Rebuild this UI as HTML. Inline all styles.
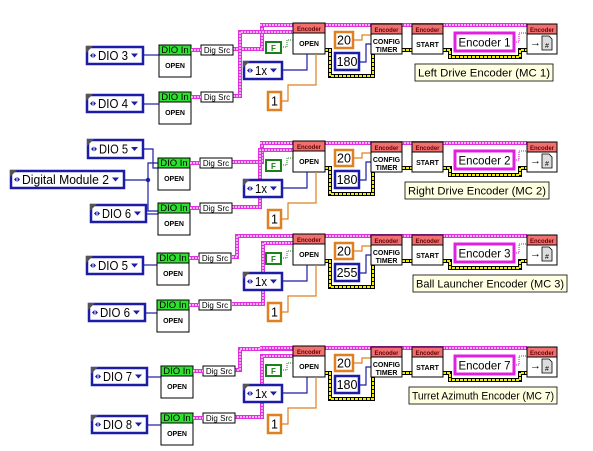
<!DOCTYPE html>
<html><head><meta charset="utf-8"><style>
html,body{margin:0;padding:0;background:#fff;width:593px;height:451px;overflow:hidden}
svg text{font-family:"Liberation Sans",sans-serif}
</style></head><body>
<svg id="s" xmlns="http://www.w3.org/2000/svg" width="593" height="451" viewBox="0 0 593 451"></svg>
<script>
var S=document.getElementById('s'),h='';
function ln(d,c,w,extra){h+='<path d="'+d+'" fill="none" stroke="'+c+'" stroke-width="'+w+'" '+(extra||'')+'/>';}
function pink(d){ln(d,'#e030e0',4);ln(d,'#fff',1.2,'stroke-dasharray="2 1"');}
function yel(d){ln(d,'#000',4);ln(d,'#f0f000',2,'stroke-dasharray="3 1"');}
function enumc(x,y,w,t,hh){hh=hh||17;
 h+='<rect x="'+x+'" y="'+y+'" width="'+w+'" height="'+hh+'" fill="#fff" stroke="#1c1ca8" stroke-width="2.5"/>';
 h+='<polygon points="'+(x-1)+','+(y-1)+' '+(x+6)+','+(y-1)+' '+(x-1)+','+(y+6)+'" fill="#555"/>';
 h+='<polygon points="'+(x+3)+','+(y+hh/2)+' '+(x+5.5)+','+(y+hh/2-2.5)+' '+(x+5.5)+','+(y+hh/2+2.5)+'" fill="#1c1ca8"/>';
 h+='<polygon points="'+(x+9)+','+(y+hh/2)+' '+(x+6.5)+','+(y+hh/2-2.5)+' '+(x+6.5)+','+(y+hh/2+2.5)+'" fill="#1c1ca8"/>';
 var tl=w-26;
 h+='<text x="'+(x+11)+'" y="'+(y+hh/2+4.5)+'" font-size="12.5" fill="#000" textLength="'+tl+'" lengthAdjust="spacingAndGlyphs">'+t+'</text>';
 h+='<polygon points="'+(x+w-12)+','+(y+hh/2-2)+' '+(x+w-5)+','+(y+hh/2-2)+' '+(x+w-8.5)+','+(y+hh/2+2)+'" fill="#1c1ca8"/>';}
function vi(x,y,w,hh,hd,hc,body,tc){
 h+='<rect x="'+x+'" y="'+y+'" width="'+w+'" height="'+hh+'" fill="#fff" stroke="#000" stroke-width="1"/>';
 h+='<rect x="'+x+'" y="'+y+'" width="'+w+'" height="10" fill="'+hc+'" stroke="#000" stroke-width="1"/>';
 h+='<text x="'+(x+w/2)+'" y="'+(y+8)+'" font-size="'+(hd=='DIO In'?9.5:6)+'" text-anchor="middle" fill="'+tc+'" font-weight="'+(hd=='DIO In'?'normal':'bold')+'">'+hd+'</text>';
 var b=body.split('|');
 for(var i=0;i<b.length;i++)h+='<text x="'+(x+w/2)+'" y="'+(y+(b.length>1?20+i*8:23))+'" font-size="7" font-weight="bold" text-anchor="middle">'+b[i]+'</text>';}
function dioin(x,y){vi(x,y,32,32,'DIO In','#30e030','OPEN','#000');
 h+='<rect x="'+(x+42)+'" y="'+y+'" width="32" height="10" fill="#fff" stroke="#000"/><text x="'+(x+58)+'" y="'+(y+8)+'" font-size="8" text-anchor="middle">Dig Src</text>';
 pink('M'+(x+32)+','+(y+5)+' H'+(x+42));}
function cst(x,y,w,hh,c,t){h+='<rect x="'+x+'" y="'+y+'" width="'+w+'" height="'+hh+'" fill="#fff" stroke="'+c+'" stroke-width="2.5"/><text x="'+(x+w/2)+'" y="'+(y+hh/2+4.5)+'" font-size="12.5" text-anchor="middle">'+t+'</text>';}
function right(d,n,lab,lx,lw){
 var Y=function(v){return v+d};
 pink('M'+(260)+','+Y(25)+' H527');
 yel('M325,'+Y(50)+' H330 V'+Y(76)+' H373 V'+Y(50));
 yel('M402,'+Y(50)+' H412');
 yel('M443,'+Y(50)+' H450 V'+Y(57)+' H520 V'+Y(50)+' H527');
 vi(293,Y(23),32,31,'Encoder','#f07070','OPEN','#600');
 h+='<rect x="266" y="'+Y(42)+'" width="15" height="11" fill="#fff" stroke="#1a801a" stroke-width="2"/><text x="273.5" y="'+Y(51)+'" font-size="8" font-weight="bold" fill="#1a801a" text-anchor="middle">F</text>';
 ln('M281,'+Y(47)+' H287 V'+Y(40)+' H293','#1a801a',1,'stroke-dasharray="1 1"');
 ln('M282,'+Y(70)+' H307 V'+Y(54),'#1c1ca8',1.2);
 ln('M281,'+Y(101)+' H288 V'+Y(85)+' H316 V'+Y(54),'#e08020',1.2);
 enumc(244,Y(62),38,'1x');
 cst(268,Y(92),13,18,'#e08020','1');
 ln('M353,'+Y(40)+' H362 V'+Y(35)+' H371','#e08020',1.2);
 ln('M359,'+Y(62)+' H366 V'+Y(44)+' H371','#1c1ca8',1.2);
 cst(335,Y(32),18,16,'#e08020','20');
 cst(335,Y(53),24,17,'#1c1ca8',n==3?'255':'180');
 vi(371,Y(24),31,30,'Encoder','#f07070','CONFIG|TIMER','#600');
 vi(412,Y(24),31,30,'Encoder','#f07070','START','#600');
 ln('M514,'+Y(42)+' H519 V'+Y(33)+' H527','#e030e0',1.2,'stroke-dasharray="1 1"');
 h+='<rect x="455" y="'+Y(33)+'" width="59" height="18" fill="#fff" stroke="#e020e0" stroke-width="3"/><text x="484.5" y="'+Y(46.5)+'" font-size="12" text-anchor="middle" textLength="52" lengthAdjust="spacingAndGlyphs">Encoder '+n+'</text>';
 vi(527,Y(24),30,30,'Encoder','#f07070','','#600');
 h+='<text x="530" y="'+Y(46)+'" font-size="11">→</text><polygon points="542,'+Y(36)+' 549,'+Y(36)+' 552,'+Y(39)+' 552,'+Y(50)+' 542,'+Y(50)+'" fill="#ddd" stroke="#000" stroke-width="0.8"/><text x="547" y="'+Y(48)+'" font-size="7" text-anchor="middle">#</text>';
 h+='<rect x="'+lx+'" y="'+Y(64)+'" width="'+lw+'" height="17" fill="#ffffe1" stroke="#000" stroke-width="0.8"/><text x="'+(lx+3)+'" y="'+Y(76.5)+'" font-size="11" textLength="'+(lw-6)+'" lengthAdjust="spacingAndGlyphs">'+lab+'</text>';
}
// group 1
pink('M233,49 H262 V25 H293');pink('M233,96 H240 V32 H293');
ln('M143,55 H159','#1c1ca8',1.2);ln('M143,104 H159','#1c1ca8',1.2);
right(0,1,'Left Drive Encoder (MC 1)',415,138);
dioin(159,45);dioin(159,92);
enumc(87,47,56,'DIO 3');enumc(87,95,56,'DIO 4');
// group 2
pink('M232,162 H262 V143 H293');pink('M232,207 H260 V150 H293');
ln('M143,149 H153 V168 H158','#1c1ca8',1.2);
ln('M124,180 H148 V163 H158 M148,180 V211 H158','#1c1ca8',1.2);
h+='<circle cx="148" cy="180" r="2.2" fill="#1c1ca8"/>';
ln('M146,214 H158','#1c1ca8',1.2);
right(118,2,'Right Drive Encoder (MC 2)',405,144);
dioin(158,158);dioin(158,203);
enumc(88,140,55,'DIO 5',18);enumc(11,171,113,'Digital Module 2');enumc(91,205,55,'DIO 6');
// group 3
pink('M232,257 H237 V236 H293');pink('M232,304 H263 V243 H293');
ln('M143,265 H157','#1c1ca8',1.2);ln('M145,313 H157','#1c1ca8',1.2);
right(211,3,'Ball Launcher Encoder (MC 3)',413,154);
dioin(157,253);dioin(157,300);
enumc(87,257,56,'DIO 5');enumc(89,304,56,'DIO 6');
// group 4
pink('M234,370 H240 V349 H293');pink('M234,417 H262 V356 H293');
ln('M147,377 H161','#1c1ca8',1.2);ln('M147,425 H161','#1c1ca8',1.2);
right(323,7,'Turret Azimuth Encoder (MC 7)',409,148);
dioin(161,366);dioin(161,413);
enumc(92,368,55,'DIO 7');enumc(92,416,55,'DIO 8');
S.innerHTML=h;
</script>
</body></html>
